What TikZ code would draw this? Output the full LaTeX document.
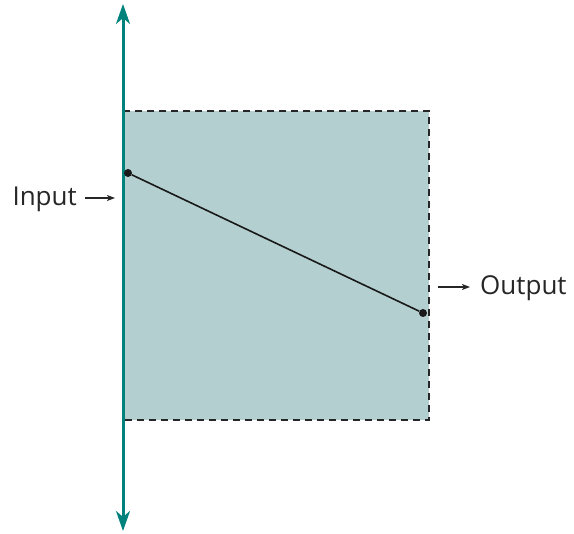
\documentclass[tikz,border=0pt]{standalone}
\usepackage{fontspec}
\setmainfont{Open Sans}
\usetikzlibrary{arrows.meta}
\definecolor{axisteal}{HTML}{00827C}
\definecolor{boxfill}{HTML}{B3CFD0}
\tikzset{
  axisline/.style={axisteal, line width=3pt, {Stealth[length=20pt,width=14pt,inset=6pt]}-{Stealth[length=20pt,width=14pt,inset=6pt]}},
  boxborder/.style={black!85, line width=2pt, dash pattern=on 7pt off 5pt},
  dotnode/.style={circle, fill=black!90, inner sep=0pt, minimum size=8pt},
  lbl/.style={font=\fontsize{26}{30}\selectfont, text=black!85, inner sep=0pt},
  smallarrow/.style={black!85, line width=1.3pt, -{Stealth[length=8pt,width=6pt,inset=2pt]}}
}
\begin{document}
\begin{tikzpicture}[x=1pt,y=-1pt]
\useasboundingbox (0,0) rectangle (574,534);
\fill[boxfill] (123,111) rectangle (429,420);
\draw[boxborder] (123,111) -- (429,111) -- (429,420) -- (123,420);
\coordinate (top) at (123,4);
\coordinate (bot) at (123,531);
\draw[axisline] (bot) -- (top);
\node[dotnode] (in) at (128,173) {};
\node[dotnode] (out) at (423,313) {};
\draw[black!90, line width=1.6pt] (in) -- (out);
\node[lbl, anchor=east] (inlbl) at (77,199) {Input};
\coordinate (ia) at (85,198);
\coordinate (ib) at (115,198);
\draw[smallarrow] (ia) -- (ib);
\node[lbl, anchor=west] (outlbl) at (480,288) {Output};
\coordinate (oa) at (438,287);
\coordinate (ob) at (470,287);
\draw[smallarrow] (oa) -- (ob);
\end{tikzpicture}
\end{document}
